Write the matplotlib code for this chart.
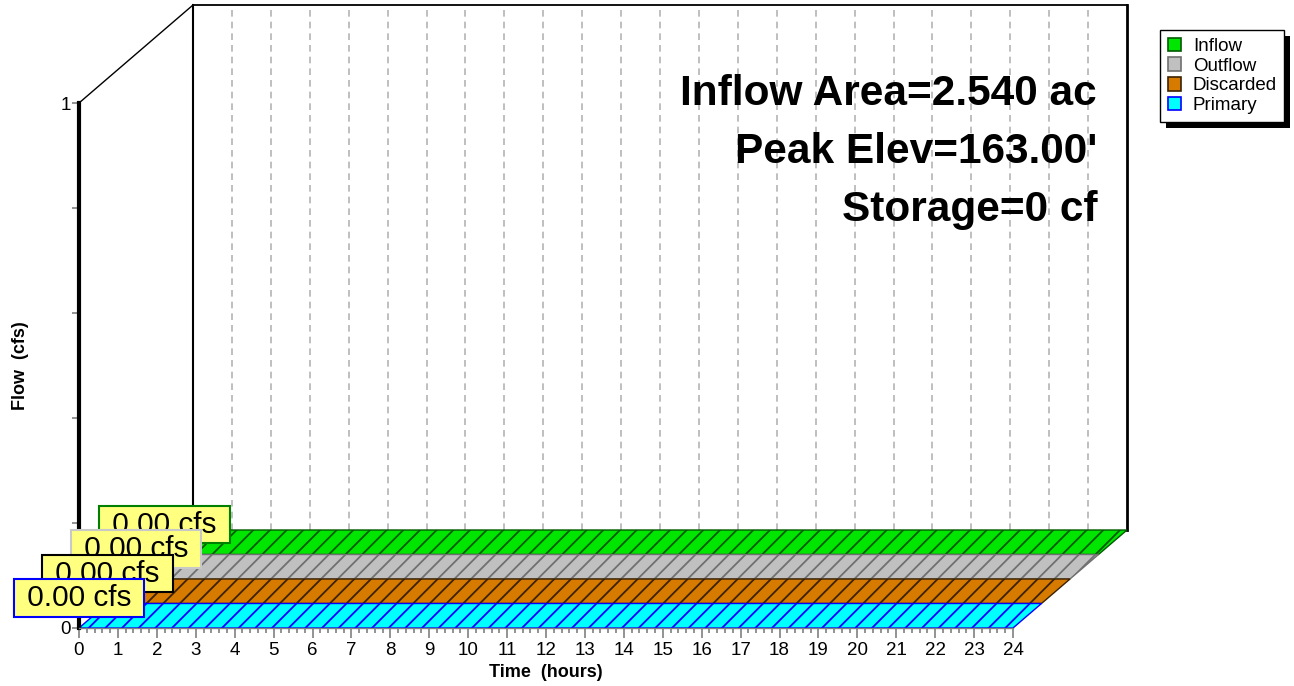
import numpy as np
import matplotlib
matplotlib.use('Agg')
import matplotlib.pyplot as plt
from matplotlib.patches import Polygon, Patch, Rectangle
from matplotlib.transforms import IdentityTransform

params = {
            'font.family' : 'Liberation Sans',
            'hatch.linewidth' : 1.3
        }
matplotlib.rcParams.update(params)

# hydrograph data (all flows are zero)
time_hr   = [0.0, 24.0]
names     = ['Primary', 'Discarded', 'Outflow', 'Inflow']        # front -> back
flows     = {'Primary'  : [0.0, 0.0],
             'Discarded': [0.0, 0.0],
             'Outflow'  : [0.0, 0.0],
             'Inflow'   : [0.0, 0.0]}
peak_txt  = ['0.00 cfs', '0.00 cfs', '0.00 cfs', '0.00 cfs']
info_txt  = ['Inflow Area=2.540 ac', "Peak Elev=163.00'", 'Storage=0 cf']

fills  = {'Inflow': '#00e600', 'Outflow': '#c0c0c0', 'Discarded': '#d67a00', 'Primary': '#00ffff'}
hatchc = {'Inflow': '#005a00', 'Outflow': '#707070', 'Discarded': '#3c2200', 'Primary': '#0000ff'}
boxec  = {'Inflow': '#008000', 'Outflow': '#c8c8c8', 'Discarded': '#000000', 'Primary': '#0000ff'}

W, H = 1294, 686
fig  = plt.figure(figsize=(W/100, H/100), dpi=100)
ax   = fig.add_axes([79/W, 58/H, 934/W, 525/H])
ax.set_xlim(0, 24); ax.set_ylim(0, 1)

# depth step of one series layer, in data units
ddx, ddy = 28.5/934*24, 24.5/525
nl = len(names)
bx, by = nl*ddx, nl*ddy

# back wall
for h in range(1, 24):
    ax.plot([h+bx, h+bx], [by, 1+by], ls=(0, (4, 3)), color='#b4b4b4', lw=1.2, clip_on=False, zorder=1)
ax.plot([bx, bx], [by, 1+by], color='k', lw=1.5, clip_on=False, zorder=1.5)
ax.plot([bx, 24+bx], [1+by, 1+by], color='k', lw=1.3, clip_on=False, zorder=1.5)
ax.plot([24+bx, 24+bx], [by, 1+by], color='k', lw=2, clip_on=False, zorder=1.5)
ax.plot([0, bx], [1, 1+by], color='k', lw=1, clip_on=False, zorder=1.5)

# ribbons, back to front
for i in reversed(range(nl)):
    nm = names[i]
    t  = np.array(time_hr); v = np.array(flows[nm])
    front = np.column_stack([t + i*ddx, v + i*ddy])
    back  = np.column_stack([t + (i+1)*ddx, v + (i+1)*ddy])
    pts   = np.vstack([front, back[::-1]])
    ax.add_patch(Polygon(pts, closed=True, facecolor=fills[nm], edgecolor=hatchc[nm],
                         hatch='//', lw=1, clip_on=False, zorder=2))

# peak labels
for i in reversed(range(nl)):
    nm = names[i]
    ax.annotate(' ' + peak_txt[i] + ' ', xy=(time_hr[0] + i*ddx, max(flows[nm]) + i*ddy),
                xytext=(0, 21.5), textcoords='offset points', ha='center', va='center',
                fontsize=21.5, zorder=5, annotation_clip=False,
                bbox=dict(boxstyle='square,pad=0.16', fc='#ffff80', ec=boxec[nm], lw=1.5))

# axes styling
for s in ['top', 'right']:
    ax.spines[s].set_visible(False)
ax.spines['left'].set_linewidth(3)
ax.spines['left'].set_color('k')
ax.spines['bottom'].set_color('#808080')
ax.spines['bottom'].set_linewidth(1)

ax.set_xticks(np.arange(0, 25, 1))
ax.set_xticks(np.arange(0, 24.01, 0.2), minor=True)
ax.set_yticks(np.linspace(0, 1, 6))
ax.set_yticklabels(['0', '', '', '', '', '1'])
ax.tick_params(axis='x', which='major', length=7, width=1.2, color='#808080', labelsize=13.5, pad=3)
ax.tick_params(axis='x', which='minor', length=3.5, width=1.2, color='#808080')
ax.tick_params(axis='y', length=5, width=1.2, color='#808080', labelsize=13.5, pad=1)

ax.set_xlabel('Time  (hours)', fontsize=13, fontweight='bold')
ax.xaxis.set_label_coords(0.5, -0.068)
ax.set_ylabel('Flow  (cfs)', fontsize=13, fontweight='bold')
ax.yaxis.set_label_coords(-0.054, 0.5)

# info text
for k, s in enumerate(info_txt):
    fig.text(1097/W, 1 - (105 + 58*k)/H, s, ha='right', va='baseline',
             fontsize=30.5, fontweight='bold')

# legend with hard shadow
handles = [Patch(facecolor=fills[nm], edgecolor=hatchc[nm], lw=1.2) for nm in names[::-1]]
leg = fig.legend(handles, names[::-1], loc='upper left', bbox_to_anchor=(1160/W, 1 - 30/H),
                 fontsize=13.5, frameon=True, fancybox=False, framealpha=1, edgecolor='k',
                 borderpad=0.4, labelspacing=0.15, handlelength=0.7, handleheight=0.7,
                 handletextpad=0.65, borderaxespad=0)
leg.get_frame().set_linewidth(1)
leg.set_zorder(10)
fig.canvas.draw()
bb = leg.get_window_extent()
fig.patches.append(Rectangle((bb.x0 + 6, bb.y0 - 6), bb.width, bb.height, transform=IdentityTransform(),
                             facecolor='k', edgecolor='none', zorder=9))

fig.savefig('out.png', dpi=100)
